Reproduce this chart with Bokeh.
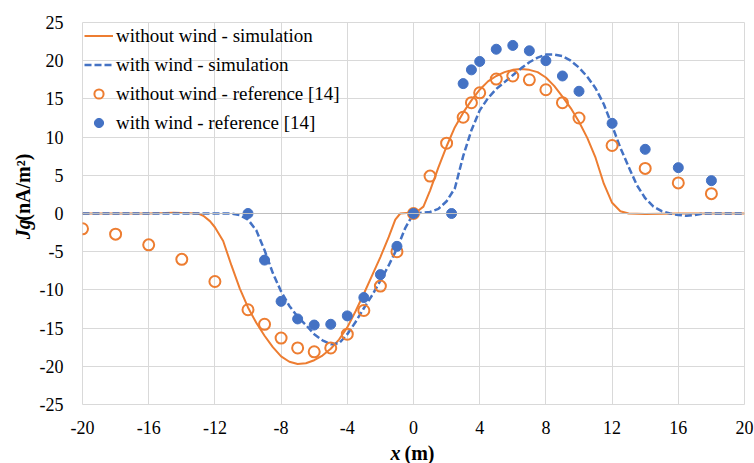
import math
from bokeh.plotting import figure
from bokeh.layouts import row, column
from bokeh.models import Range1d, FixedTicker, Span, Legend, LegendItem, CustomJSTickFormatter
from bokeh.core.properties import value
from bokeh.embed import file_html
from bokeh.resources import INLINE

# ---- data ----
sim_nowind_x = [-20, -16, -15, -14.5, -14, -13, -12.7, -12.3, -12, -11.5, -11, -10.5, -10,
                -9.5, -9, -8.5, -8, -7.5, -7, -6.5, -6, -5.5, -5, -4.5, -4, -3.5, -3, -2.5,
                -2, -1.5, -1.1, -0.8, -0.4, 0, 0.3, 0.6, 1, 1.5, 2, 2.5, 3, 3.5, 4, 4.5, 5,
                5.5, 6, 6.5, 7, 7.5, 8, 8.5, 9, 9.5, 10, 10.5, 11, 11.5, 12, 12.5, 13, 14, 16, 20]
sim_nowind_y = [0, 0, 0.05, 0.1, 0.05, 0, -0.3, -1.0, -1.8, -3.6, -6.8, -9.8, -12.3,
                -14.3, -16.0, -17.5, -18.7, -19.4, -19.7, -19.6, -19.2, -18.6, -17.7, -16.5, -14.9, -12.8, -10.5, -8.1,
                -5.7, -3.1, -0.8, 0, 0.05, 0.1, 0.4, 0.9, 3.0, 6.0, 8.8, 11.3, 13.2, 14.8, 16.2, 17.3, 18.0,
                18.5, 18.8, 18.9, 18.8, 18.5, 17.8, 16.7, 15.3, 13.8, 12.0, 9.9, 7.3, 3.9, 1.4, 0.3, 0, -0.05, 0, 0]

sim_wind_x = [-20, -12, -11, -10.5, -10, -9.5, -9, -8.5, -8, -7.5, -7, -6.5, -6, -5.5, -5,
              -4.5, -4, -3.5, -3, -2.5, -2, -1.5, -1, -0.5, 0, 0.5, 1, 1.5, 2, 2.5, 3, 3.5,
              4, 4.5, 5, 5.5, 6, 6.5, 7, 7.5, 8, 8.5, 9, 9.5, 10, 10.5, 11, 11.5, 12, 12.5,
              13, 13.5, 14, 14.5, 15, 15.5, 16, 16.5, 17, 17.5, 20]
sim_wind_y = [0, 0, 0, -0.2, -0.8, -2.2, -4.8, -7.8, -10.2, -12.1, -13.5, -14.6, -15.8, -16.6, -17.1,
              -17.0, -15.8, -14.2, -12.4, -10.7, -8.8, -6.8, -4.6, -1.9, 0, 0.1, 0.2, 0.6, 1.6, 3.3, 7.5, 10.9,
              13.5, 15.1, 16.3, 17.2, 18.1, 19.0, 19.8, 20.4, 20.8, 20.8, 20.6, 20.0, 19.1, 17.9, 16.4, 14.3, 11.5, 8.6,
              6.1, 3.7, 2.0, 0.9, 0.3, 0.0, -0.2, -0.3, -0.2, 0, 0]

ref_nowind_x = [-20, -18, -16, -14, -12, -10, -9, -8, -7, -6, -5, -4, -3, -2, -1, 0,
                1, 2, 3, 3.5, 4, 5, 6, 7, 8, 9, 10, 12, 14, 16, 18]
ref_nowind_y = [-2.0, -2.7, -4.1, -6.0, -8.9, -12.6, -14.5, -16.3, -17.6, -18.1, -17.6, -15.8, -12.7, -9.5, -5.0, 0,
                4.9, 9.2, 12.6, 14.5, 15.8, 17.6, 18.0, 17.5, 16.2, 14.5, 12.5, 8.9, 5.9, 4.0, 2.6]

ref_wind_x = [-10, -9, -8, -7, -6, -5, -4, -3, -2, -1, 0, 2.3, 3, 3.5, 4, 5, 6, 7, 8, 9, 10, 12, 14, 16, 18]
ref_wind_y = [0, -6.1, -11.5, -13.8, -14.6, -14.5, -13.4, -11.0, -8.0, -4.3, 0, 0, 17.0, 18.8, 19.9,
              21.5, 22.0, 21.3, 20.0, 18.0, 16.0, 11.8, 8.4, 6.0, 4.3]

x_ticks = [-20, -16, -12, -8, -4, 0, 4, 8, 12, 16, 20]
y_ticks = [-25, -20, -15, -10, -5, 0, 5, 10, 15, 20, 25]

names = ["without wind - simulation", "with wind - simulation",
         "without wind - reference [14]", "with wind - reference [14]"]

y_title = ["Jg", "(nA/m²)"]
x_title = ["x", "(m)"]

ORANGE = "#ED7D31"
BLUE = "#4472C4"
FONT = "Liberation Serif"

YLAB_W = 36
MAIN_H = 436
XLAB_H = 27
TOTAL_W = 754

# ---------------- main chart ----------------
p = figure(width=TOTAL_W - YLAB_W, height=MAIN_H, output_backend="svg", toolbar_location=None,
           x_range=Range1d(-20, 20), y_range=Range1d(-25, 25),
           min_border_left=82 - YLAB_W, min_border_right=10, min_border_top=22, min_border_bottom=32)

p.outline_line_color = "#d9d9d9"
p.background_fill_color = "white"
p.border_fill_color = "white"

fmt = CustomJSTickFormatter(code="return tick.toString();")
for ax in (p.xaxis[0], p.yaxis[0]):
    ax.axis_line_color = None
    ax.major_tick_line_color = None
    ax.minor_tick_line_color = None
    ax.major_tick_out = 0
    ax.major_tick_in = 0
    ax.minor_tick_out = 0
    ax.minor_tick_in = 0
    ax.major_label_text_font = FONT
    ax.major_label_text_font_size = "18px"
    ax.major_label_text_color = "black"
    ax.formatter = fmt
p.xaxis.ticker = FixedTicker(ticks=x_ticks)
p.yaxis.ticker = FixedTicker(ticks=y_ticks)
p.xaxis.major_label_standoff = 16
p.yaxis.major_label_standoff = 19

p.xgrid.ticker = FixedTicker(ticks=x_ticks)
p.ygrid.ticker = FixedTicker(ticks=y_ticks)
p.xgrid.grid_line_color = "#d9d9d9"
p.ygrid.grid_line_color = "#d9d9d9"

p.add_layout(Span(location=0, dimension="width", line_color="#bfbfbf", line_width=1))

r1 = p.line(sim_nowind_x, sim_nowind_y, line_color=ORANGE, line_width=2)
r2 = p.line(sim_wind_x, sim_wind_y, line_color=BLUE, line_width=2.5, line_dash="7 3")
r3 = p.scatter(ref_nowind_x, ref_nowind_y, marker="circle", size=11, fill_color=None,
               line_color=ORANGE, line_width=2)
r4 = p.scatter(ref_wind_x, ref_wind_y, marker="circle", size=10, fill_color=BLUE,
               line_color=BLUE, line_width=1)

legend = Legend(items=[LegendItem(label=n, renderers=[r]) for n, r in zip(names, [r1, r2, r3, r4])],
                location="top_left")
legend.label_text_font = FONT
legend.label_text_font_size = "19px"
legend.label_text_color = "black"
legend.background_fill_alpha = 0
legend.border_line_color = None
legend.margin = 2
legend.padding = 2
legend.spacing = 6
legend.glyph_width = 29
legend.glyph_height = 23
legend.label_height = 23
legend.label_standoff = 3
p.add_layout(legend)


def label_fig(w, h):
    f = figure(width=w, height=h, output_backend="svg", toolbar_location=None,
               x_range=Range1d(0, w), y_range=Range1d(0, h), min_border=0,
               x_axis_location=None, y_axis_location=None)
    f.outline_line_color = None
    f.xgrid.visible = False
    f.ygrid.visible = False
    f.background_fill_color = "white"
    f.border_fill_color = "white"
    return f


# ---------------- y-axis title (rotated, reads bottom to top) ----------------
ylab = label_fig(YLAB_W, MAIN_H)
ylab.text(x=[22], y=[MAIN_H - 236], text=[y_title[0]], angle=math.pi / 2,
          text_align="center", text_baseline="middle", text_font=value(FONT),
          text_font_size="20px", text_font_style="bold italic", text_color="black")
ylab.text(x=[22], y=[MAIN_H - 188], text=[y_title[1]], angle=math.pi / 2,
          text_align="center", text_baseline="middle", text_font=value(FONT),
          text_font_size="20px", text_font_style="bold", text_color="black")

# ---------------- x-axis title ----------------
xlab = label_fig(TOTAL_W, XLAB_H)
xlab.text(x=[390], y=[11], text=[x_title[0]], text_align="left", text_baseline="middle",
          text_font=value(FONT), text_font_size="20px", text_font_style="bold italic",
          text_color="black")
xlab.text(x=[404], y=[11], text=[x_title[1]], text_align="left", text_baseline="middle",
          text_font=value(FONT), text_font_size="20px", text_font_style="bold",
          text_color="black")

layout = column(row(ylab, p, spacing=0), xlab, spacing=0)

open("out.html", "w").write(file_html(layout, INLINE))
